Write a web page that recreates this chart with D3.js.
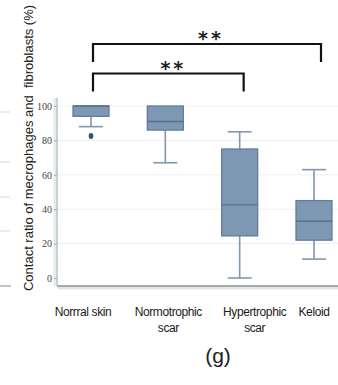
<!DOCTYPE html>
<html>
<head>
<meta charset="utf-8">
<script src="https://cdn.jsdelivr.net/npm/d3@7"></script>
<style>
  body { margin: 0; background: #fff; }
</style>
</head>
<body>
<div id="my_dataviz"></div>
<script>
// data
var categories = ["Norrral skin", "Normotrophic\nscar", "Hypertrophic\nscar", "Keloid"];
var whiskerLow  = [88, 67, 0, 11];
var q1          = [94, 86, 24.5, 22];
var medians     = [100, 91, 42.5, 33];
var q3          = [100, 100, 75, 45];
var whiskerHigh = [100, 100, 85, 63];
var outliers    = [[0, 82.5]];   // [category index, value]
var yTicks      = [0, 20, 40, 60, 80, 100];
var brackets    = [[0, 3, "**"], [0, 2, "**"]];

var width = 338, height = 385;

var svg = d3.select("#my_dataviz")
  .append("svg")
    .attr("width", width)
    .attr("height", height);

var x = d3.scalePoint()
  .domain(d3.range(categories.length))
  .range([91, 314]);

var y = d3.scaleLinear()
  .domain([0, 100])
  .range([278, 106]);

var boxW = 36, capW = 24;
var frameLeft = 57, frameBottom = y(-4.65), frameTop = y(104.6);

// bits of the neighbouring panel at the left edge
svg.append("g")
  .attr("stroke", "#d8d8d8")
  .selectAll("line")
  .data([112, 162, 197, 231])
  .join("line")
  .attr("x1", 0).attr("x2", 10)
  .attr("y1", d => d).attr("y2", d => d);
svg.append("line")
  .attr("x1", 0).attr("x2", 11)
  .attr("y1", frameBottom).attr("y2", frameBottom)
  .attr("stroke", "#999").attr("stroke-width", 1.2);

// grid
svg.append("g")
  .attr("stroke", "#ecf0f2")
  .selectAll("line")
  .data(yTicks.slice(1))
  .join("line")
  .attr("x1", frameLeft).attr("x2", width)
  .attr("y1", d => y(d)).attr("y2", d => y(d));

// frame shadow and axes
svg.append("line")
  .attr("x1", frameLeft + 1).attr("x2", width)
  .attr("y1", frameBottom + 2).attr("y2", frameBottom + 2)
  .attr("stroke", "#e2e4e6").attr("stroke-width", 3);
svg.append("line")
  .attr("x1", frameLeft - 2).attr("x2", frameLeft - 2)
  .attr("y1", frameTop).attr("y2", frameBottom)
  .attr("stroke", "#e4ecee").attr("stroke-width", 3);

var yAxis = g => g
  .attr("transform", `translate(${frameLeft},0)`)
  .call(d3.axisLeft(y).tickValues(yTicks).tickSize(3).tickPadding(2))
  .call(g => g.select(".domain").remove())
  .call(g => g.selectAll(".tick line").attr("stroke", "#9aa"))
  .call(g => g.selectAll(".tick text")
      .attr("font-family", "Liberation Serif, serif")
      .attr("font-size", 10)
      .attr("fill", "#444"));
svg.append("g").call(yAxis);

svg.append("line")
  .attr("x1", frameLeft).attr("x2", frameLeft)
  .attr("y1", frameTop).attr("y2", frameBottom)
  .attr("stroke", "#a9b6b8").attr("stroke-width", 1.2);
svg.append("line")
  .attr("x1", frameLeft).attr("x2", width)
  .attr("y1", frameBottom).attr("y2", frameBottom)
  .attr("stroke", "#8d8f91").attr("stroke-width", 1.3);

// boxes
var boxes = svg.append("g")
  .selectAll("g")
  .data(d3.range(categories.length))
  .join("g");

boxes.append("line")
  .attr("x1", i => x(i)).attr("x2", i => x(i))
  .attr("y1", i => y(whiskerLow[i])).attr("y2", i => y(whiskerHigh[i]))
  .attr("stroke", "#7f97b1").attr("stroke-width", 1.6);
boxes.append("line")
  .attr("x1", i => x(i) - capW / 2).attr("x2", i => x(i) + capW / 2)
  .attr("y1", i => y(whiskerLow[i])).attr("y2", i => y(whiskerLow[i]))
  .attr("stroke", "#7f97b1").attr("stroke-width", 1.6);
boxes.filter(i => whiskerHigh[i] > q3[i]).append("line")
  .attr("x1", i => x(i) - capW / 2).attr("x2", i => x(i) + capW / 2)
  .attr("y1", i => y(whiskerHigh[i])).attr("y2", i => y(whiskerHigh[i]))
  .attr("stroke", "#7f97b1").attr("stroke-width", 1.6);
boxes.append("rect")
  .attr("x", i => x(i) - boxW / 2)
  .attr("y", i => y(q3[i]))
  .attr("width", boxW)
  .attr("height", i => y(q1[i]) - y(q3[i]))
  .attr("fill", "#7e97b3")
  .attr("stroke", "#5f7d9c")
  .attr("stroke-width", 1.3);
boxes.append("line")
  .attr("x1", i => x(i) - boxW / 2).attr("x2", i => x(i) + boxW / 2)
  .attr("y1", i => y(medians[i])).attr("y2", i => y(medians[i]))
  .attr("stroke", "#55728f").attr("stroke-width", 1.4);

svg.append("g")
  .selectAll("ellipse")
  .data(outliers)
  .join("ellipse")
  .attr("cx", d => x(d[0]))
  .attr("cy", d => y(d[1]))
  .attr("rx", 2.3).attr("ry", 3)
  .attr("fill", "#2e5078");

// significance brackets
var brY = [44, 73.5];
brackets.forEach(function(b, k) {
  var x1 = x(b[0]) + 2, x2 = x(b[1]) + (b[1] == 3 ? 7 : 4), top = brY[k];
  svg.append("path")
    .attr("d", `M${x1},${top + 18}V${top}H${x2}V${top + 18}`)
    .attr("fill", "none")
    .attr("stroke", "#111")
    .attr("stroke-width", 2.2);
  svg.append("text")
    .attr("x", (x1 + x2) / 2 + (k == 0 ? 4 : 5))
    .attr("y", top + 1)
    .attr("text-anchor", "middle")
    .attr("font-family", "DejaVu Sans, sans-serif")
    .attr("font-size", 19)
    .attr("font-weight", "bold")
    .attr("letter-spacing", 3)
    .attr("fill", "#222")
    .text(b[2]);
});

// category labels
var labelShift = [-8, 3, 15, 0];
var lab = svg.append("g")
  .attr("font-family", "Liberation Sans, Arial, sans-serif")
  .attr("font-size", 12)
  .attr("fill", "#1a1a1a")
  .attr("text-anchor", "middle")
  .selectAll("text")
  .data(d3.range(categories.length))
  .join("text")
  .attr("transform", i => `translate(${x(i) + labelShift[i]},316)`);
lab.selectAll("tspan")
  .data(i => categories[i].split("\n"))
  .join("tspan")
  .attr("x", 0)
  .attr("y", (d, j) => j * 16)
  .attr("letter-spacing", -0.4)
  .text(d => d);

// y title
svg.append("text")
  .attr("transform", "translate(33,148) rotate(-90)")
  .attr("text-anchor", "middle")
  .attr("font-family", "Liberation Sans, Arial, sans-serif")
  .attr("font-size", 13)
  .attr("fill", "#222")
  .attr("xml:space", "preserve")
  .text("Contact ratio of mecrophages and  fibroblasts (%)");

svg.append("text")
  .attr("x", 218)
  .attr("y", 363)
  .attr("text-anchor", "middle")
  .attr("font-family", "Liberation Sans, Arial, sans-serif")
  .attr("font-size", 21)
  .attr("fill", "#222")
  .text("(g)");
</script>
</body>
</html>
